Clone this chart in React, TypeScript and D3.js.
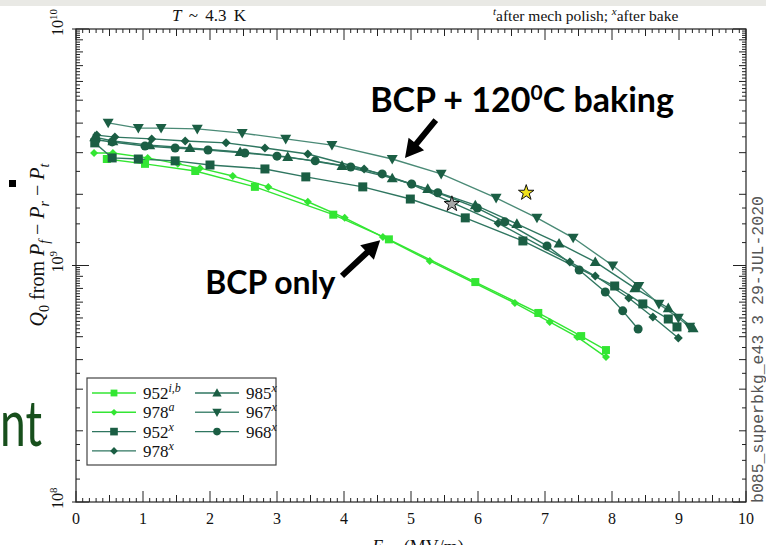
import React, { useEffect, useRef } from 'react';
import * as d3 from 'd3';

// Q0 vs E (E in MV/m)
const e952ib = [0.46, 1.03, 1.78, 2.67, 3.84, 4.67, 5.96, 6.9, 7.54, 7.91];
const q952ib = [2.82e9, 2.69e9, 2.51e9, 2.15e9, 1.64e9, 1.29e9, 8.51e8, 6.3e8, 5.03e8, 4.39e8];

const e978a = [0.27, 0.55, 1.07, 1.52, 1.85, 2.34, 2.87, 3.46, 4.01, 4.58, 5.28, 6.55, 7.07, 7.48, 7.91];
const q978a = [2.99e9, 2.99e9, 2.85e9, 2.69e9, 2.58e9, 2.39e9, 2.15e9, 1.86e9, 1.59e9, 1.32e9, 1.045e9, 6.94e8, 5.77e8, 4.99e8, 4.1e8];

const e952x = [0.28, 0.54, 0.93, 1.48, 2.0, 2.82, 3.43, 4.28, 4.99, 5.81, 6.67, 8.04, 8.46, 8.84, 8.97];
const q952x = [3.3e9, 2.85e9, 2.82e9, 2.77e9, 2.66e9, 2.56e9, 2.37e9, 2.15e9, 1.91e9, 1.59e9, 1.27e9, 8.19e8, 6.88e8, 5.94e8, 5.5e8];

const e978x = [0.31, 0.58, 1.13, 1.63, 2.24, 2.82, 3.46, 4.3, 5.0, 6.3, 7.37, 7.75, 8.25, 8.61, 8.99];
const q978x = [3.56e9, 3.49e9, 3.43e9, 3.36e9, 3.3e9, 3.14e9, 2.96e9, 2.56e9, 2.21e9, 1.51e9, 1.035e9, 9.03e8, 7.29e8, 6.06e8, 4.94e8];

const e985x = [0.28, 0.55, 1.1, 1.7, 2.45, 3.16, 3.97, 4.72, 5.25, 5.96, 6.58, 7.21, 7.75, 8.34, 8.84, 9.21];
const q985x = [3.49e9, 3.36e9, 3.23e9, 3.14e9, 3.02e9, 2.88e9, 2.64e9, 2.34e9, 2.11e9, 1.8e9, 1.5e9, 1.24e9, 1.035e9, 8.03e8, 6.61e8, 5.44e8];

const e967x = [0.48, 0.93, 1.27, 1.81, 2.48, 3.13, 3.82, 4.72, 5.45, 6.27, 6.88, 7.42, 8.01, 8.4, 8.7, 8.99, 9.16];
const q967x = [4.01e9, 3.81e9, 3.81e9, 3.78e9, 3.63e9, 3.43e9, 3.23e9, 2.82e9, 2.44e9, 1.93e9, 1.59e9, 1.31e9, 1.0e9, 8.19e8, 6.88e8, 6.0e8, 5.5e8];

const e968x = [0.3, 0.54, 1.03, 1.48, 1.97, 2.52, 3.0, 3.57, 4.1, 4.57, 5.01, 5.4, 5.99, 6.4, 7.03, 7.51, 7.9, 8.16, 8.39];
const q968x = [3.4e9, 3.33e9, 3.2e9, 3.14e9, 3.08e9, 2.99e9, 2.9e9, 2.77e9, 2.61e9, 2.44e9, 2.21e9, 2.03e9, 1.75e9, 1.53e9, 1.21e9, 9.57e8, 7.73e8, 6.43e8, 5.39e8];

// two reference stars
const starE = [5.61, 6.72];
const starQ = [1.82e9, 2.03e9];
const starFill = ['#a8a8a8', '#f2e21c'];

const xTicks = [0, 1, 2, 3, 4, 5, 6, 7, 8, 9, 10];
const yTicks = [1e8, 1e9, 1e10];
const yTickExp = ['8', '9', '10'];

const BRIGHT = '#33e633';
const DARK = '#1b5e44';
const DARKLINE = '#2f7660';

type Marker = 'square' | 'diamond' | 'triup' | 'tridown' | 'circle';
interface Series { num: string; sup: string; e: number[]; q: number[]; color: string; line: string; marker: Marker; size: number; }

const series: Series[] = [
  { num: '952', sup: 'i,b', e: e952ib, q: q952ib, color: BRIGHT, line: BRIGHT, marker: 'square', size: 8 },
  { num: '978', sup: 'a', e: e978a, q: q978a, color: BRIGHT, line: BRIGHT, marker: 'diamond', size: 4 },
  { num: '952', sup: 'x', e: e952x, q: q952x, color: DARK, line: DARKLINE, marker: 'square', size: 9 },
  { num: '978', sup: 'x', e: e978x, q: q978x, color: DARK, line: DARKLINE, marker: 'diamond', size: 4.5 },
  { num: '985', sup: 'x', e: e985x, q: q985x, color: DARK, line: DARKLINE, marker: 'triup', size: 5.5 },
  { num: '967', sup: 'x', e: e967x, q: q967x, color: DARK, line: '#4a8a76', marker: 'tridown', size: 5.5 },
  { num: '968', sup: 'x', e: e968x, q: q968x, color: DARK, line: DARKLINE, marker: 'circle', size: 4.5 },
];

function markerPath(m: Marker, s: number) {
  switch (m) {
    case 'square': return `M${-s / 2},${-s / 2}h${s}v${s}h${-s}Z`;
    case 'diamond': return `M0,${-s}L${s},0L0,${s}L${-s},0Z`;
    case 'triup': return `M0,${-s}L${s},${s * 0.75}L${-s},${s * 0.75}Z`;
    case 'tridown': return `M0,${s}L${s},${-s * 0.75}L${-s},${-s * 0.75}Z`;
    default: return d3.symbol(d3.symbolCircle, Math.PI * s * s)()!;
  }
}

export default function App() {
  const ref = useRef<SVGSVGElement>(null);

  useEffect(() => {
    if (!ref.current) return;
    const svg = d3.select(ref.current);
    svg.selectAll('*').remove();

    const x = d3.scaleLinear().domain([0, 10]).range([76, 746]);
    const y = d3.scaleLog().domain([1e8, 1e10]).range([502, 29]);
    const serif = 'Liberation Serif, Times New Roman, serif';
    const sans = 'Lato, Open Sans, sans-serif';

    svg.append('rect').attr('width', 766).attr('height', 545).attr('fill', '#fff');
    svg.append('rect').attr('width', 766).attr('height', 6).attr('fill', '#e9e9e5');

    // slide leftovers
    svg.append('rect').attr('x', 9).attr('y', 180).attr('width', 7).attr('height', 7).attr('fill', '#000');
    svg.append('text').attr('x', 0).attr('y', 446).attr('font-family', sans).attr('font-size', 64)
      .attr('textLength', 42).attr('lengthAdjust', 'spacingAndGlyphs')
      .attr('fill', '#174f1c').text('nt');

    // frame
    const [x0, x1] = x.range();
    const [y0, y1] = y.range();
    svg.append('rect').attr('x', x0).attr('y', y1).attr('width', x1 - x0).attr('height', y0 - y1)
      .attr('fill', 'none').attr('stroke', '#222').attr('stroke-width', 1.2);

    const ticks = svg.append('g').attr('stroke', '#222').attr('stroke-width', 1);
    // x ticks, bottom and top
    d3.range(0, 100.5, 1).forEach(i => {
      const v = i / 10;
      const len = i % 10 === 0 ? 11 : i % 5 === 0 ? 7 : 4;
      ticks.append('line').attr('x1', x(v)).attr('x2', x(v)).attr('y1', y0).attr('y2', y0 - len);
      ticks.append('line').attr('x1', x(v)).attr('x2', x(v)).attr('y1', y1).attr('y2', y1 + len);
    });
    // y log ticks, left and right
    const mult = [1.25, 1.5, 1.75, 2, 2.5, 3, 3.5, 4, 4.5, 5, ...d3.range(5.2, 9.9, 0.2)];
    [1e8, 1e9].forEach(d => {
      mult.forEach(k => {
        const v = k * d;
        const len = Number.isInteger(Math.round(k * 100) / 100) ? 7 : 4;
        ticks.append('line').attr('x1', x0).attr('x2', x0 + len).attr('y1', y(v)).attr('y2', y(v));
        ticks.append('line').attr('x1', x1).attr('x2', x1 - len).attr('y1', y(v)).attr('y2', y(v));
      });
    });
    yTicks.forEach(v => {
      ticks.append('line').attr('x1', x0 - 4).attr('x2', x0 + 13).attr('y1', y(v)).attr('y2', y(v));
      ticks.append('line').attr('x1', x1).attr('x2', x1 - 13).attr('y1', y(v)).attr('y2', y(v));
    });

    // x tick labels
    svg.append('g').selectAll('text').data(xTicks).join('text')
      .attr('x', d => x(d)).attr('y', 524).attr('text-anchor', 'middle')
      .attr('font-family', serif).attr('font-size', 16).attr('fill', '#111').text(d => d);

    // y tick labels (rotated)
    yTicks.forEach((v, i) => {
      const t = svg.append('text').attr('transform', `translate(63,${y(v) + 7}) rotate(-90)`)
        .attr('font-family', serif).attr('font-size', 16).attr('fill', '#111');
      t.append('tspan').text('10');
      t.append('tspan').attr('dy', -6).attr('font-size', 11).text(yTickExp[i]);
    });

    // axis titles
    const yt = svg.append('text').attr('transform', 'translate(44,245) rotate(-90)')
      .attr('text-anchor', 'middle').attr('font-family', serif).attr('font-size', 20).attr('fill', '#111');
    const sub = (txt: string, italic: boolean) => {
      yt.append('tspan').attr('dy', 5).attr('font-size', 14).attr('font-style', italic ? 'italic' : 'normal').text(txt);
    };
    yt.append('tspan').attr('font-style', 'italic').text('Q');
    sub('0', false);
    yt.append('tspan').attr('dy', -5).text(' from ');
    yt.append('tspan').attr('font-style', 'italic').text('P');
    sub('f', true);
    yt.append('tspan').attr('dy', -5).text(' − ');
    yt.append('tspan').attr('font-style', 'italic').text('P');
    sub('r', true);
    yt.append('tspan').attr('dy', -5).text(' − ');
    yt.append('tspan').attr('font-style', 'italic').text('P');
    sub('t', true);

    const xt = svg.append('text').attr('x', 418).attr('y', 553).attr('text-anchor', 'middle')
      .attr('font-family', serif).attr('font-size', 18).attr('fill', '#111');
    xt.append('tspan').attr('font-style', 'italic').text('E');
    xt.append('tspan').attr('dy', 4).attr('font-size', 12).text('acc');
    xt.append('tspan').attr('dy', -4).text(' (MV/m)');

    // header
    const h1 = svg.append('text').attr('x', 209).attr('y', 21).attr('text-anchor', 'middle')
      .attr('font-family', serif).attr('font-size', 17).attr('word-spacing', 3).attr('fill', '#111');
    h1.append('tspan').attr('font-style', 'italic').text('T');
    h1.append('tspan').text(' ~ 4.3 K');
    const h2 = svg.append('text').attr('x', 493).attr('y', 21)
      .attr('font-family', serif).attr('font-size', 15.5).attr('fill', '#111');
    h2.append('tspan').attr('dy', -6).attr('font-size', 11).attr('font-style', 'italic').text('t');
    h2.append('tspan').attr('dy', 6).text('after mech polish; ');
    h2.append('tspan').attr('dy', -6).attr('font-size', 11).attr('font-style', 'italic').text('x');
    h2.append('tspan').attr('dy', 6).text('after bake');

    // side stamp
    svg.append('text').attr('transform', 'translate(763,503) rotate(-90)')
      .attr('font-family', 'Liberation Mono, monospace').attr('font-size', 16.5).attr('fill', '#555')
      .text('b085_superbkg_e43 3 29-JUL-2020');

    // series
    const line = d3.line<[number, number]>().x(d => x(d[0])).y(d => y(d[1]));
    const plot = svg.append('g');
    series.forEach(s => {
      const pts = s.e.map((e, i) => [e, s.q[i]] as [number, number]);
      plot.append('path').attr('d', line(pts)).attr('fill', 'none')
        .attr('stroke', s.line).attr('stroke-width', 1.4);
    });
    series.forEach(s => {
      const pts = s.e.map((e, i) => [e, s.q[i]] as [number, number]);
      plot.append('g').selectAll('path').data(pts).join('path')
        .attr('transform', d => `translate(${x(d[0])},${y(d[1])})`)
        .attr('d', markerPath(s.marker, s.size)).attr('fill', s.color);
    });

    // stars
    plot.append('g').selectAll('path').data(starE).join('path')
      .attr('transform', (d, i) => `translate(${x(d)},${y(starQ[i])})`)
      .attr('d', d3.symbol(d3.symbolStar, 75)()!)
      .attr('fill', (d, i) => starFill[i]).attr('stroke', '#111').attr('stroke-width', 1);

    // legend
    const lg = svg.append('g');
    lg.append('rect').attr('x', 87).attr('y', 378).attr('width', 189).attr('height', 87)
      .attr('fill', '#fff').attr('stroke', '#444').attr('stroke-width', 1.2);
    series.forEach((s, i) => {
      const col = i < 4 ? 0 : 1;
      const row = i < 4 ? i : i - 4;
      const lx = col === 0 ? 92 : 195;
      const ly = 393 + row * 19.3;
      lg.append('line').attr('x1', lx).attr('x2', lx + 44).attr('y1', ly).attr('y2', ly)
        .attr('stroke', s.line).attr('stroke-width', 1.4);
      lg.append('path').attr('transform', `translate(${lx + 22},${ly})`)
        .attr('d', markerPath(s.marker, s.size * 0.85)).attr('fill', s.color);
      const t = lg.append('text').attr('x', lx + 51).attr('y', ly + 6)
        .attr('font-family', serif).attr('font-size', 17).attr('fill', '#111');
      t.append('tspan').text(s.num);
      t.append('tspan').attr('dy', -7).attr('font-size', 12).attr('font-style', 'italic').text(s.sup);
    });

    // annotations
    const arrow = (ta: [number, number], hd: [number, number]) => {
      const [tx, ty] = [x(ta[0]), y(ta[1])];
      const [hx, hy] = [x(hd[0]), y(hd[1])];
      const L = Math.hypot(hx - tx, hy - ty);
      const ux = (hx - tx) / L, uy = (hy - ty) / L;
      const nx = -uy, ny = ux;
      const hl = 18, hw = 10, sw = 3;
      const bx = hx - ux * hl, by = hy - uy * hl;
      const p = [
        [tx + nx * sw, ty + ny * sw], [bx + nx * sw, by + ny * sw], [bx + nx * hw, by + ny * hw],
        [hx, hy], [bx - nx * hw, by - ny * hw], [bx - nx * sw, by - ny * sw], [tx - nx * sw, ty - ny * sw],
      ];
      svg.append('path').attr('d', 'M' + p.map(q => q.join(',')).join('L') + 'Z').attr('fill', '#000');
    };
    arrow([5.37, 4.12e9], [4.91, 2.85e9]);
    arrow([3.97, 9.04e8], [4.54, 1.28e9]);

    const a1 = svg.append('text').attr('x', x(4.39)).attr('y', y(4.46e9))
      .attr('font-family', sans).attr('font-weight', 'bold').attr('font-size', 34).attr('fill', '#000');
    a1.append('tspan').text('BCP + 120');
    a1.append('tspan').attr('dy', -12).attr('font-size', 21).text('0');
    a1.append('tspan').attr('dy', 12).text('C baking');
    svg.append('text').attr('x', x(1.93)).attr('y', y(7.57e8))
      .attr('font-family', sans).attr('font-weight', 'bold').attr('font-size', 32).attr('fill', '#000')
      .text('BCP only');
  }, []);

  return (
    <svg ref={ref} width={766} height={545} viewBox="0 0 766 545"
      style={{ position: 'absolute', left: 0, top: 0, display: 'block' }} />
  );
}
